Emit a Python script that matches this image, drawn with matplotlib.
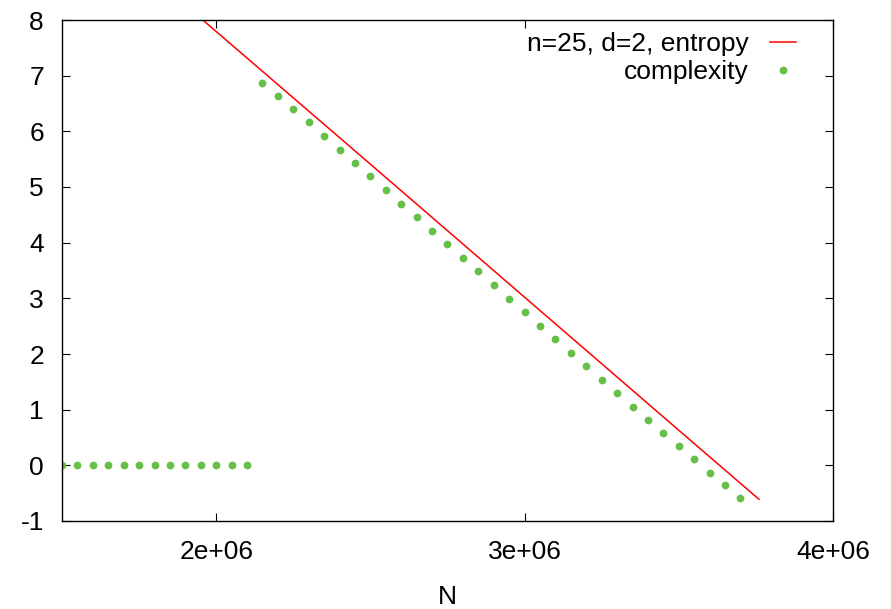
#!/usr/bin/env python3
"""
Entropy vs complexity for n=25, d=2, plotted against N (gnuplot-like look).
"""

import matplotlib
matplotlib.use("Agg")
import matplotlib.pyplot as plt

plt.rcParams['font.family'] = ['Liberation Sans', 'DejaVu Sans']
plt.rcParams['axes.unicode_minus'] = False

# complexity is zero up to 2.1e6, then drops roughly linearly
n_zero = [1.50e6, 1.55e6, 1.60e6, 1.65e6, 1.70e6, 1.75e6, 1.80e6,
          1.85e6, 1.90e6, 1.95e6, 2.00e6, 2.05e6, 2.10e6]
complexity_zero = [0.0] * len(n_zero)

n_complex = [2.15e6, 2.20e6, 2.25e6, 2.30e6, 2.35e6, 2.40e6, 2.45e6, 2.50e6,
             2.55e6, 2.60e6, 2.65e6, 2.70e6, 2.75e6, 2.80e6, 2.85e6, 2.90e6,
             2.95e6, 3.00e6, 3.05e6, 3.10e6, 3.15e6, 3.20e6, 3.25e6, 3.30e6,
             3.35e6, 3.40e6, 3.45e6, 3.50e6, 3.55e6, 3.60e6, 3.65e6, 3.70e6]
complexity = [6.87, 6.63, 6.40, 6.16, 5.91, 5.67, 5.43, 5.19,
              4.94, 4.70, 4.46, 4.21, 3.97, 3.72, 3.49, 3.24,
              2.99, 2.75, 2.51, 2.27, 2.02, 1.78, 1.54, 1.30,
              1.05, 0.81, 0.58, 0.34, 0.11, -0.13, -0.35, -0.58]

n_entropy = [1.90e6, 2.50e6, 3.00e6, 3.50e6, 3.76e6]
entropy = [8.27, 5.41, 3.02, 0.63, -0.61]

red = '#ff0000'
green = '#66bf47'
fs = 19

fig = plt.figure(figsize=(8.91, 6.09), dpi=100)
ax = fig.add_axes([62 / 891, 1 - 521 / 609, (833 - 62) / 891, (521 - 20) / 609])

ax.plot(n_entropy, entropy, color=red, lw=1.1, label='n=25, d=2, entropy')
ax.plot(n_zero + n_complex, complexity_zero + complexity, ls='none',
        marker='o', ms=5.6, mew=0, color=green, label='complexity')

ax.set_xlim(1.5e6, 4e6)
ax.set_ylim(-1, 8)
ax.set_xticks([2e6, 3e6, 4e6])
ax.set_xticklabels(['2e+06', '3e+06', '4e+06'])
ax.set_yticks(range(-1, 9))
ax.tick_params(direction='in', length=5.5, width=0.8, labelsize=fs,
               top=True, right=True, pad=13)
ax.tick_params(axis='x', pad=14)
for s in ax.spines.values():
    s.set_linewidth(1.0)

ax.set_xlabel('N', fontsize=fs, labelpad=15)

leg = ax.legend(loc='upper right', bbox_to_anchor=(1 - 37 / 771, 1 - 12 / 501),
                frameon=False, fontsize=fs, markerfirst=False,
                handlelength=1.0, handletextpad=0.8, labelspacing=0.15,
                borderpad=0, borderaxespad=0, numpoints=1)

plt.savefig("out.png", dpi=100)
